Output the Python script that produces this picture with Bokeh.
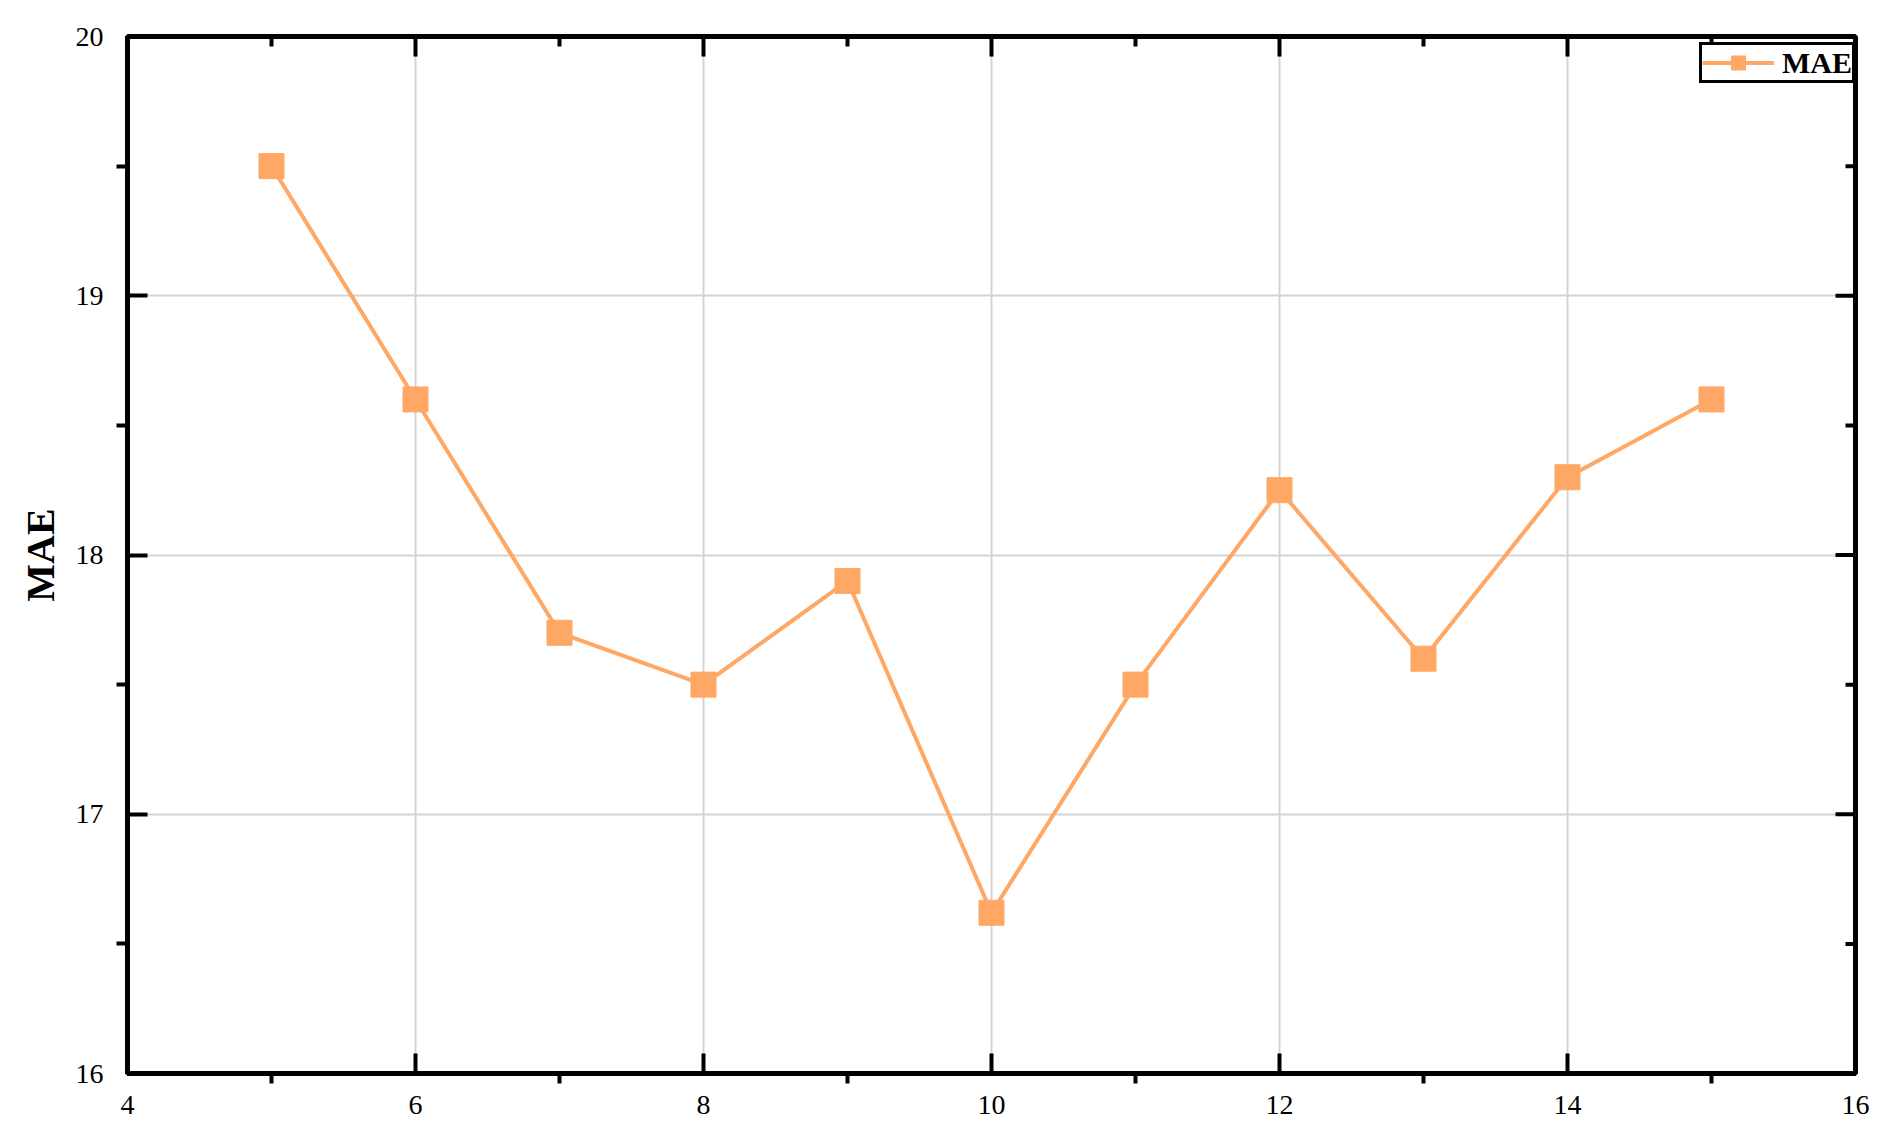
import math
from bokeh.plotting import figure
from bokeh.models import Range1d, FixedTicker, LinearAxis, Legend, LegendItem, ColumnDataSource
from bokeh.embed import file_html
from bokeh.resources import INLINE

# data
window = [5, 6, 7, 8, 9, 10, 11, 12, 13, 14, 15]
mae = [19.5, 18.6, 17.7, 17.5, 17.9, 16.62, 17.5, 18.25, 17.6, 18.3, 18.6]

x_major = [4, 6, 8, 10, 12, 14, 16]
x_minor = [5, 7, 9, 11, 13, 15]
y_major = [16, 17, 18, 19, 20]
y_minor = [16.5, 17.5, 18.5, 19.5]

ORANGE = "#FFA764"
FONT = "Liberation Serif"

X0, X1 = x_major[0], x_major[-1]
Y0, Y1 = y_major[0], y_major[-1]

p = figure(width=1895, height=1140, output_backend="svg", toolbar_location=None,
           x_range=Range1d(X0, X1), y_range=Range1d(Y0, Y1),
           x_axis_location=None, y_axis_location=None,
           min_border_left=127, min_border_right=40, min_border_top=36, min_border_bottom=67)

p.outline_line_color = "black"
p.outline_line_width = 5
p.outline_line_alpha = 1
p.background_fill_color = "white"
p.border_fill_color = "white"

xt = FixedTicker(ticks=x_major, minor_ticks=x_minor)
yt = FixedTicker(ticks=y_major, minor_ticks=y_minor)

def style(ax, minor_out):
    ax.axis_line_width = 5
    ax.axis_line_color = "black"
    ax.major_tick_line_width = 4
    ax.minor_tick_line_width = 4
    ax.major_tick_in = 20
    ax.major_tick_out = 0
    ax.minor_tick_in = 0
    ax.minor_tick_out = minor_out
    ax.major_label_text_font = FONT
    ax.major_label_text_color = "black"
    ax.major_label_text_font_size = "28px"

bottom = LinearAxis(ticker=xt)
style(bottom, 10)
bottom.major_label_standoff = 12
left = LinearAxis(ticker=yt, axis_label="MAE")
style(left, 11)
left.major_label_standoff = 13
left.axis_label_text_font = FONT
left.axis_label_text_font_style = "bold"
left.axis_label_text_font_size = "40px"
left.axis_label_text_color = "black"
left.axis_label_standoff = 10

p.add_layout(bottom, "below")
p.add_layout(left, "left")

p.xgrid.ticker = FixedTicker(ticks=x_major)
p.ygrid.ticker = FixedTicker(ticks=y_major)
for g in (p.xgrid, p.ygrid):
    g.grid_line_color = "#d3d3d3"
    g.grid_line_width = 2
p.xgrid.visible = True
p.ygrid.visible = True

# mirrored ticks on top and right (inward only; half clipped by the frame)
p.scatter(x_major, [Y1] * len(x_major), marker="dash", angle=math.pi / 2, size=40,
          line_color="black", line_width=4)
p.scatter(x_minor, [Y1] * len(x_minor), marker="dash", angle=math.pi / 2, size=20,
          line_color="black", line_width=4)
p.scatter([X1] * len(y_major), y_major, marker="dash", size=40,
          line_color="black", line_width=4)
p.scatter([X1] * len(y_minor), y_minor, marker="dash", size=20,
          line_color="black", line_width=4)

src = ColumnDataSource(dict(x=window, y=mae))
ln = p.line("x", "y", source=src, line_color=ORANGE, line_width=4)
sc = p.scatter("x", "y", source=src, marker="square", size=25, fill_color=ORANGE, line_color=ORANGE)

legend = Legend(items=[LegendItem(label="MAE", renderers=[ln, sc])], location=(1572, 990),
                margin=0, padding=0, spacing=0, glyph_width=72, glyph_height=35,
                label_height=35, label_standoff=8,
                label_text_font=FONT, label_text_font_style="bold", label_text_font_size="30px",
                label_text_color="black",
                border_line_color="black", border_line_width=3, border_line_alpha=1,
                background_fill_color="white", background_fill_alpha=1)
p.add_layout(legend, "center")

open("out.html", "w").write(file_html(p, INLINE))
